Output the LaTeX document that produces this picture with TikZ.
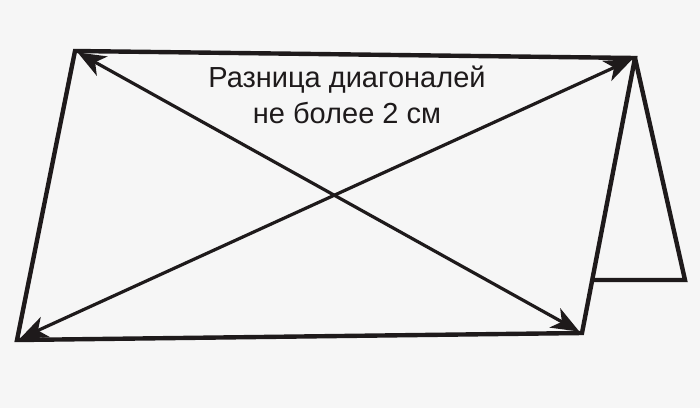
\documentclass[tikz,border=0pt]{standalone}
\usepackage{fontspec}
\setmainfont{Liberation Sans}
\usetikzlibrary{arrows.meta}
\definecolor{bg}{RGB}{246,246,246}
\definecolor{ink}{RGB}{30,26,27}
\begin{document}
\begin{tikzpicture}[x=1pt,y=-1pt,
  edge/.style={draw=ink,line width=4.4pt,line join=miter},
  diag/.style={draw=ink,line width=3.2pt,{Stealth[length=28pt,width=22pt,inset=8pt]}-{Stealth[length=28pt,width=22pt,inset=8pt]}},
  lbl/.style={font=\fontsize{29}{36}\selectfont,text=ink,align=center,inner sep=0pt}]
\fill[bg] (0,0) rectangle (700,408);
\useasboundingbox (0,0) rectangle (700,408);
\coordinate (TL) at (75,51);
\coordinate (TR) at (635,58);
\coordinate (BR) at (582,333);
\coordinate (BL) at (17,340);
\coordinate (FB) at (685,280);
\coordinate (FI) at (593,280);
\draw[edge] (TL) -- (TR) -- (BR) -- (BL) -- cycle;
\draw[edge] (TR) -- (FB) -- (FI);
\draw[diag,shorten <=3pt,shorten >=3pt] (TL) -- (BR);
\draw[diag,shorten <=3pt,shorten >=3pt] (BL) -- (TR);
\node[lbl] (t) at (347,95) {Разница диагоналей\\не более 2 см};
\end{tikzpicture}
\end{document}
